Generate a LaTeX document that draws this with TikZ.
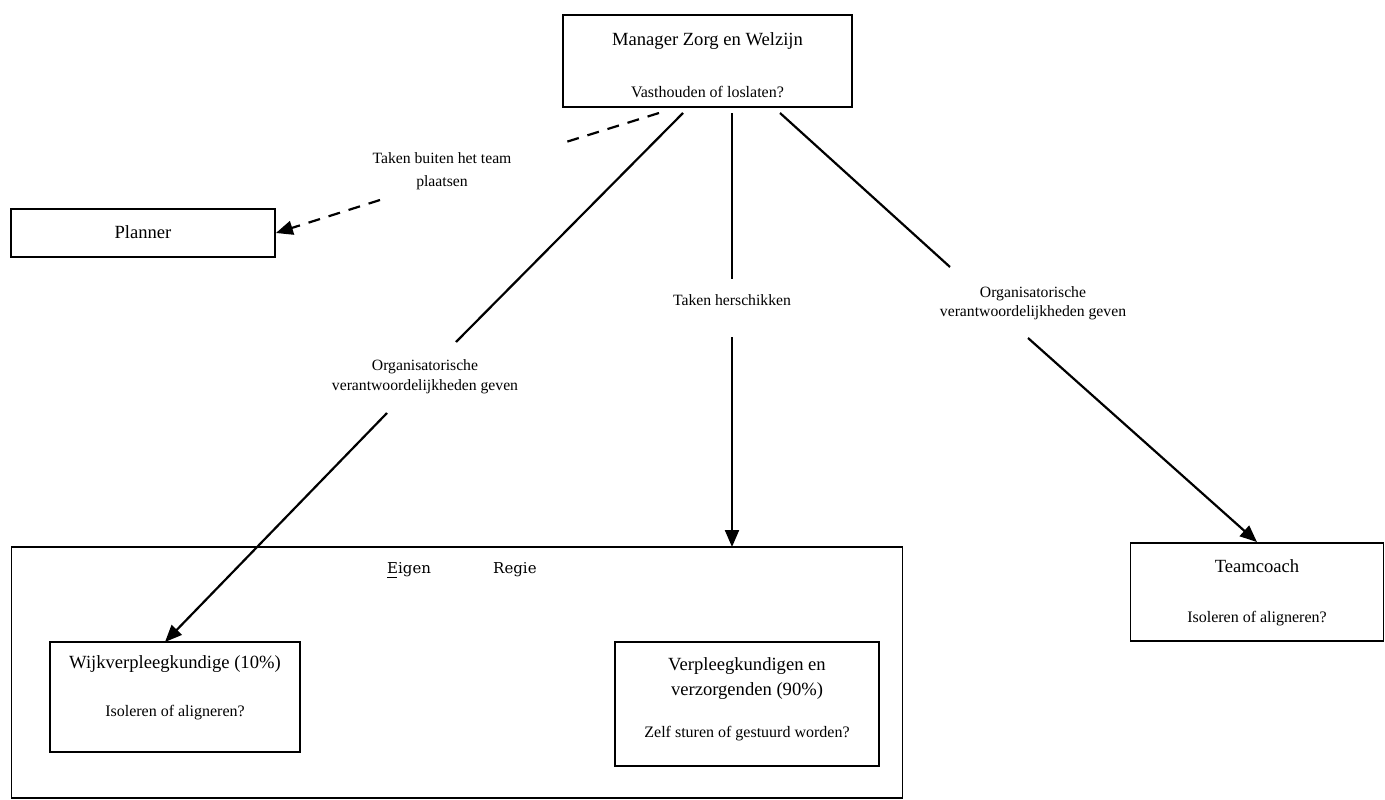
\documentclass[tikz,border=0pt]{standalone}
\usepackage{fontspec}
\setmainfont{Liberation Serif}
\newfontfamily\regiefont{DejaVu Serif}
\usetikzlibrary{arrows.meta}
\begin{document}
\begin{tikzpicture}[x=1pt,y=-1pt,
  box/.style={draw,line width=1.8pt,inner sep=0pt},
  conn/.style={line width=2.2pt},
  dashconn/.style={conn,dash pattern=on 12pt off 9pt},
  tip/.style={-{Triangle[length=17pt,width=14pt]}},
  ttl/.style={font=\fontsize{18.6}{22}\selectfont,anchor=base,inner sep=0pt},
  sub/.style={font=\fontsize{16}{19}\selectfont,anchor=base,inner sep=0pt},
  lbl/.style={font=\fontsize{15.7}{19}\selectfont,anchor=base,inner sep=0pt},
]
\useasboundingbox (0,0) rectangle (1385,800);

% boxes
\node[box,minimum width=289pt,minimum height=92pt] (mgr) at (707.5,61) {};
\node[box,minimum width=264pt,minimum height=48pt] (plan) at (143,233) {};
\node[box,minimum width=891pt,minimum height=251pt] (team) at (457,672.5) {};
\node[box,minimum width=250pt,minimum height=110pt] (wijk) at (175,697) {};
\node[box,minimum width=264pt,minimum height=124pt] (verp) at (747,704) {};
\node[box,minimum width=253pt,minimum height=98pt] (coach) at (1257,592) {};

% box texts
\node[ttl] (mgrT) at (707.5,46) {Manager Zorg en Welzijn};
\node[sub] (mgrS) at (707.5,97) {Vasthouden of loslaten?};
\node[ttl] (planT) at (143,238) {Planner};
\node[ttl] (wijkT) at (175,668) {Wijkverpleegkundige (10\%)};
\node[sub] (wijkS) at (175,716) {Isoleren of aligneren?};
\node[ttl] (verpT1) at (747,670) {Verpleegkundigen en};
\node[ttl] (verpT2) at (747,695) {verzorgenden (90\%)};
\node[sub] (verpS) at (747,737) {Zelf sturen of gestuurd worden?};
\node[ttl] (coachT) at (1257,572) {Teamcoach};
\node[sub] (coachS) at (1257,622) {Isoleren of aligneren?};

% heading of the team box
\node[font=\regiefont\fontsize{15}{18}\selectfont,anchor=base west,inner sep=0pt] (eigen) at (387,573) {Eigen};
\node[font=\regiefont\fontsize{15}{18}\selectfont,anchor=base west,inner sep=0pt] (regie) at (493,573) {Regie};
\draw[line width=0.8pt] (eigen.base west) ++(0,4) coordinate (d1) -- ++(10,0) coordinate (d2);

% connector labels
\node[lbl] (l1a) at (442,163) {Taken buiten het team};
\node[lbl] (l1b) at (442,186) {plaatsen};
\node[lbl] (l2a) at (425,370) {Organisatorische};
\node[lbl] (l2b) at (425,390) {verantwoordelijkheden geven};
\node[lbl] (l3) at (732,305) {Taken herschikken};
\node[lbl] (l4a) at (1033,297) {Organisatorische};
\node[lbl] (l4b) at (1033,316) {verantwoordelijkheden geven};

% connector end points
\coordinate (a0) at (659,113);
\coordinate (a1) at (566,142);
\coordinate (a2) at (380,200);
\coordinate (b0) at (683,113);
\coordinate (b1) at (456,342);
\coordinate (b2) at (387,413);
\coordinate (b3) at (165,642);
\coordinate (c0) at (732,113);
\coordinate (c1) at (732,279);
\coordinate (c2) at (732,337);
\coordinate (c3) at (732,547);
\coordinate (e0) at (780,113);
\coordinate (e1) at (950,267);
\coordinate (e2) at (1028,338);

% connectors
\draw[dashconn] (a0) -- (a1);
\draw[dashconn,tip] (a2) -- (plan.east);
\draw[conn] (b0) -- (b1);
\draw[conn,tip] (b2) -- (b3);
\draw[conn] (c0) -- (c1);
\draw[conn,tip] (c2) -- (c3);
\draw[conn] (e0) -- (e1);
\draw[conn,tip] (e2) -- (coach.north);
\end{tikzpicture}
\end{document}
